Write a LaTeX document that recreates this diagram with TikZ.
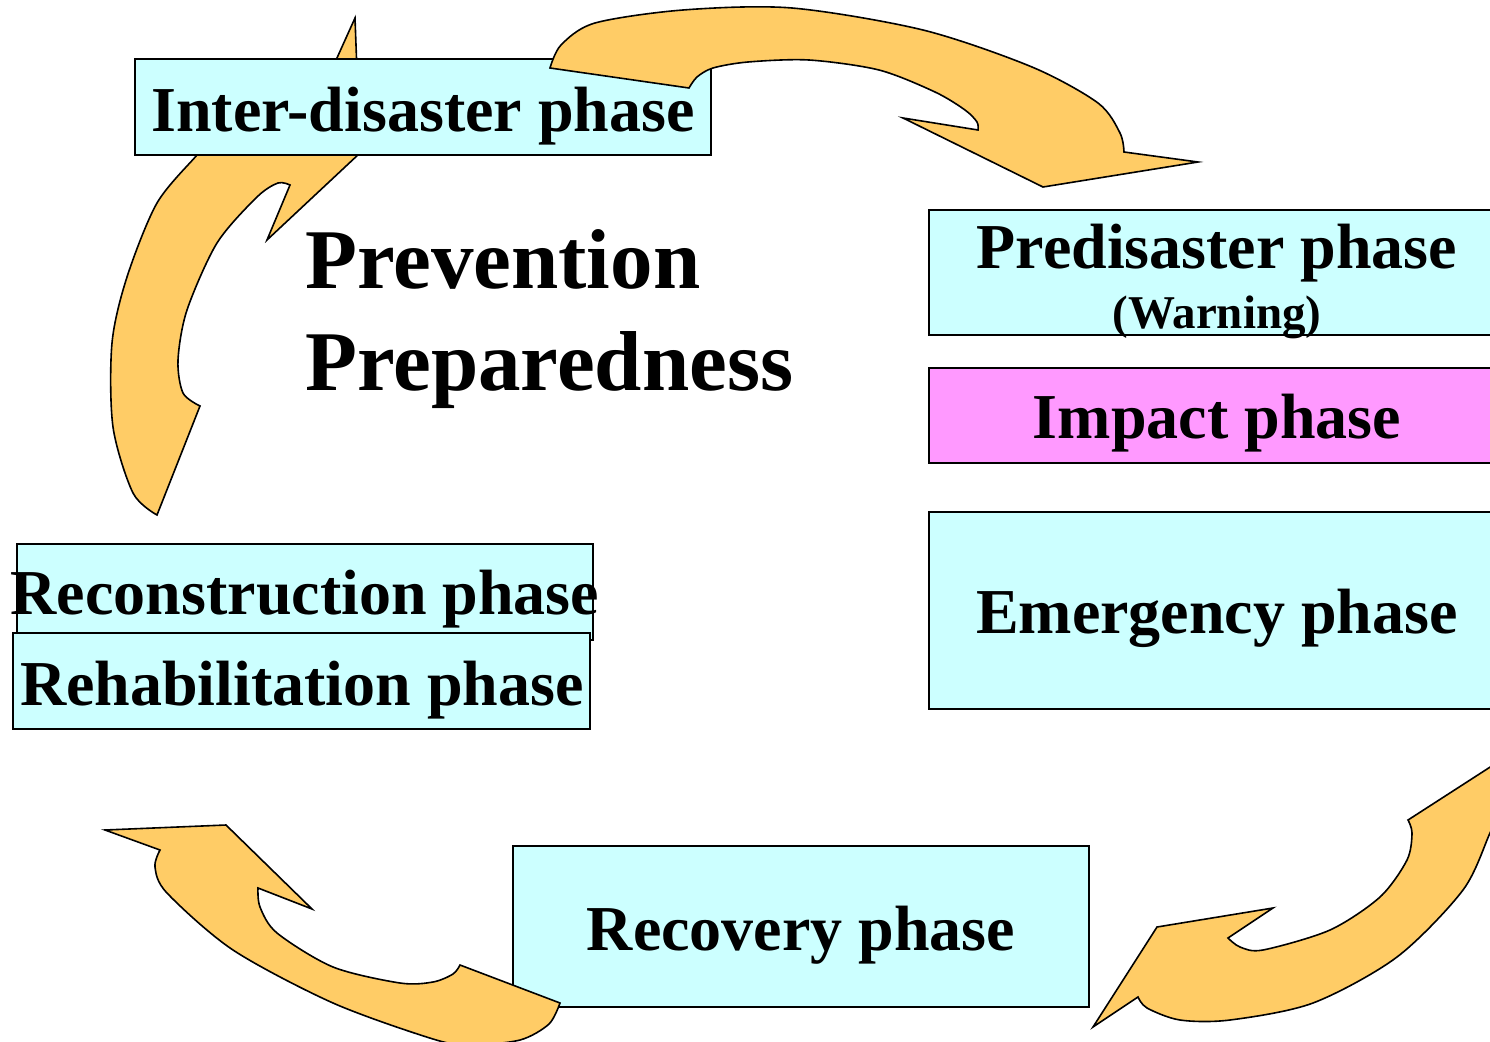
\documentclass[tikz,border=0pt]{standalone}
\usepackage{fontspec}
\setmainfont{Liberation Serif}
\definecolor{boxcyan}{HTML}{CCFFFF}
\definecolor{boxpink}{HTML}{FF99FF}
\definecolor{arrowfill}{HTML}{FFCC66}
\begin{document}
\begin{tikzpicture}[x=1pt,y=-1pt,
  box/.style={draw=black, line width=1.8pt, rectangle, anchor=north west, inner sep=0pt, outer sep=0pt},
  txt/.style={anchor=base, inner sep=0pt, font=\bfseries\fontsize{64}{64}\selectfont},
  small/.style={anchor=base, inner sep=0pt, font=\bfseries\fontsize{47}{47}\selectfont},
  big/.style={anchor=base west, inner sep=0pt, font=\bfseries\fontsize{85}{85}\selectfont},
  curved/.style={fill=arrowfill, draw=black, line width=1.6pt, line join=miter}]
\useasboundingbox (0,0) rectangle (1490,1041);
\clip (0,0) rectangle (1490,1041);
\fill[white] (0,0) rectangle (1490,1041);

% left arrow (under the inter-disaster box)
\path[curved] (355,18) -- (360,153) -- (267,240) -- (290,185)
  -- plot[smooth] coordinates {(290,185) (278,183) (257,197) (217,243) (187,310) (178,360) (183,393) (200,406)}
  -- (157,515)
  -- plot[smooth] coordinates {(157,515) (133,493) (113,427) (112,343) (127,277) (157,203) (197,155) (208,142)}
  -- (300,140) -- cycle;

% boxes
\node[box, fill=boxcyan, minimum width=576pt, minimum height=96pt] (interbox) at (135,59) {};
\node[box, fill=boxcyan, minimum width=600pt, minimum height=125pt] (prebox) at (929,210) {};
\node[box, fill=boxpink, minimum width=600pt, minimum height=95pt] (impactbox) at (929,368) {};
\node[box, fill=boxcyan, minimum width=600pt, minimum height=197pt] (emergbox) at (929,512) {};
\node[box, fill=boxcyan, minimum width=576pt, minimum height=96pt] (reconbox) at (17,544) {};
\node[box, fill=boxcyan, minimum width=577pt, minimum height=96pt] (rehabbox) at (13,633) {};
\node[box, fill=boxcyan, minimum width=576pt, minimum height=161pt] (recovbox) at (513,846) {};

% top arrow
\path[curved] (550,68) -- (689,88)
  -- plot[smooth] coordinates {(689,88) (697,77) (713,68) (748,62) (809,60) (879,70) (935,92) (965,110) (977,122) (978,130)}
  -- (903,118) -- (1043,187) -- (1198,162) -- (1124,152)
  -- plot[smooth] coordinates {(1124,152) (1120,133) (1098,103) (1032,67) (923,30) (792,8) (683,10) (595,23) (561,45) (550,68)}
  -- cycle;

% bottom-left arrow
\path[curved] (105,830) -- (226,825) -- (312,909) -- (258,888)
  -- plot[smooth] coordinates {(258,888) (260,907) (277,933) (333,967) (400,983) (433,982) (453,974) (460,965)}
  -- (560,1003)
  -- plot[smooth] coordinates {(560,1003) (549,1024) (520,1040) (470,1045) (433,1039) (333,1003) (233,950) (167,893) (155,867) (160,850)}
  -- cycle;

% bottom-right arrow
\path[curved] (1093,1027) -- (1157,927) -- (1273,908) -- (1228,938)
  -- plot[smooth] coordinates {(1228,938) (1240,947) (1263,950) (1330,930) (1380,897) (1407,860) (1412,833) (1408,820)}
  -- (1515,751) -- (1502,808)
  -- plot[smooth] coordinates {(1502,808) (1490,833) (1463,890) (1397,957) (1313,1003) (1230,1020) (1180,1020) (1147,1008) (1138,997)}
  -- cycle;

% texts
\node[txt] (intert) at (423,131) {Inter-disaster phase};
\node[txt] (pret) at (1217,268) {Predisaster phase};
\node[small] (warnt) at (1217,328) {(Warning)};
\node[txt] (impactt) at (1217,438) {Impact phase};
\node[txt] (emergt) at (1217,633) {Emergency phase};
\node[txt] (recont) at (305,614) {Reconstruction phase};
\node[txt] (rehabt) at (302,705) {Rehabilitation phase};
\node[txt] (recovt) at (801,950) {Recovery phase};
\node[big] (prevt) at (305,288) {Prevention};
\node[big] (prept) at (305,390) {Preparedness};
\end{tikzpicture}
\end{document}
